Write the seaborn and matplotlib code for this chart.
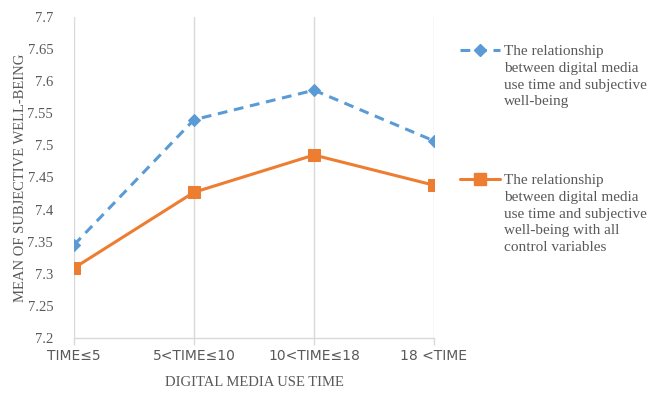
import matplotlib
matplotlib.use("Agg")
import matplotlib.pyplot as plt
from matplotlib.lines import Line2D
import seaborn as sns
import pandas as pd

# Digital media use time groups
categories = ["TIME≤5", "5<TIME≤10", "10<TIME≤18", "18 <TIME"]
# Mean subjective well-being, no controls
wellbeing_raw = [7.345, 7.540, 7.586, 7.507]
# Mean subjective well-being, with all control variables
wellbeing_ctrl = [7.309, 7.427, 7.485, 7.438]

label_raw = "The relationship\nbetween digital media\nuse time and subjective\nwell-being"
label_ctrl = ("The relationship\nbetween digital media\nuse time and subjective\n"
              "well-being with all\ncontrol variables")

y_ticks = [7.2, 7.25, 7.3, 7.35, 7.4, 7.45, 7.5, 7.55, 7.6, 7.65, 7.7]

sns.set_theme(style="white")
plt.rcParams["font.family"] = ["Liberation Serif", "DejaVu Serif"]

BLUE = "#5B9BD5"
ORANGE = "#ED7D31"
GREY_TXT = "#595959"
GRID = "#D9D9D9"

df = pd.DataFrame({
    "pos": list(range(len(categories))) * 2,
    "value": wellbeing_raw + wellbeing_ctrl,
    "series": ["raw"] * len(categories) + ["ctrl"] * len(categories),
})

fig = plt.figure(figsize=(6.48, 3.94), dpi=100)
ax = fig.add_axes([74 / 648, 1 - 338 / 394, (434 - 74) / 648, (338 - 17) / 394])

sns.lineplot(data=df[df.series == "raw"], x="pos", y="value", ax=ax,
             color=BLUE, linewidth=2.2, marker="D", markersize=6,
             markeredgecolor=BLUE, dashes=False, zorder=3)
ax.lines[-1].set_linestyle((0, (3.2, 2.2)))
sns.lineplot(data=df[df.series == "ctrl"], x="pos", y="value", ax=ax,
             color=ORANGE, linewidth=2.2, marker="s", markersize=8,
             markeredgecolor=ORANGE, zorder=3)

ax.set_xlim(0, len(categories) - 1)
ax.set_ylim(7.2, 7.7)
ax.set_yticks(y_ticks)
ax.set_yticklabels([f"{v:g}" for v in y_ticks])
ax.set_xticks(range(len(categories)))
ax.set_xticklabels(categories, family=["DejaVu Sans"], fontsize=10, color=GREY_TXT)

ax.xaxis.grid(True, color=GRID, linewidth=1)
ax.yaxis.grid(False)
for s in ["top", "right", "left"]:
    ax.spines[s].set_visible(False)
ax.spines["bottom"].set_color(GRID)
ax.spines["bottom"].set_linewidth(1)
ax.tick_params(axis="x", bottom=True, length=5, width=1, color=GRID, pad=3)
ax.tick_params(axis="y", left=False, labelsize=10.5, labelcolor=GREY_TXT, pad=9)

ax.set_xlabel("DIGITAL MEDIA USE TIME", fontsize=10.5, color=GREY_TXT, labelpad=9)
ax.set_ylabel("MEAN OF SUBJECTIVE WELL-BEING", fontsize=10.5, color=GREY_TXT, labelpad=0)

# Legend placed to the right of the plot area
def legend_entry(y_px, color, style, marker, msize, text):
    yf = 1 - y_px / 394
    fig.add_artist(Line2D([460 / 648, 500 / 648], [yf, yf], transform=fig.transFigure,
                          color=color, linewidth=2.2, linestyle=style))
    fig.add_artist(Line2D([480 / 648], [yf], transform=fig.transFigure, color=color,
                          marker=marker, markersize=msize, linestyle="none"))
    fig.text(504 / 648, yf + 5 / 394, text, ha="left", va="top", fontsize=11,
             color=GREY_TXT, linespacing=1.38)

legend_entry(50, BLUE, (0, (3.2, 2.2)), "D", 6, label_raw)
legend_entry(179, ORANGE, "-", "s", 8, label_ctrl)

fig.savefig("out.png", dpi=100)
